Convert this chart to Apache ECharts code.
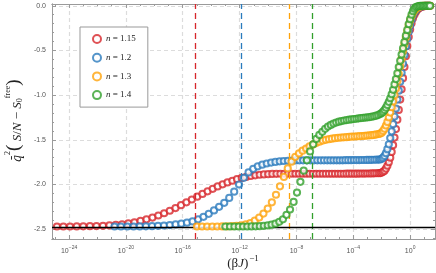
<!DOCTYPE html>
<html><head><meta charset="utf-8">
<script src="https://cdn.jsdelivr.net/npm/echarts@6/dist/echarts.min.js"></script>
<style>html,body{margin:0;padding:0;background:#fff}#c{width:436px;height:273px}</style>
</head><body><div id="c"></div>
<script>
// x values are log10((beta J)^-1)
const seriesNames = ['n = 1.15', 'n = 1.2', 'n = 1.3', 'n = 1.4'];
const seriesColors = ['#d7262b', '#2a7bbd', '#ffa20a', '#32a02c'];
const criticalX = [-15.13, -11.9, -8.52, -6.88];
const groundLevel = -2.48;
const xMajorTicks = [-24, -20, -16, -12, -8, -4, 0];
const xMinorTicks = [-25, -23, -22, -21, -19, -18, -17, -15, -14, -13, -11, -10, -9, -7, -6, -5, -3, -2, -1, 1];
const yMajorTicks = [-2.5, -2.0, -1.5, -1.0, -0.5, 0.0];
const yMinorTicks = [-2.6, -2.4, -2.3, -2.2, -2.1, -1.9, -1.8, -1.7, -1.6, -1.4, -1.3, -1.2, -1.1, -0.9, -0.8, -0.7, -0.6, -0.4, -0.3, -0.2, -0.1];

const red = [[-24.85,-2.47],[-24.4,-2.47],[-23.93,-2.47],[-23.46,-2.469],[-23.0,-2.468],[-22.53,-2.467],[-22.07,-2.465],[-21.61,-2.462],[-21.16,-2.458],[-20.71,-2.452],[-20.27,-2.445],[-19.83,-2.435],[-19.4,-2.423],[-18.97,-2.408],[-18.55,-2.39],[-18.13,-2.37],[-17.72,-2.347],[-17.31,-2.322],[-16.91,-2.294],[-16.51,-2.264],[-16.12,-2.232],[-15.74,-2.2],[-15.36,-2.168],[-14.98,-2.136],[-14.61,-2.105],[-14.25,-2.076],[-13.89,-2.048],[-13.54,-2.022],[-13.19,-1.998],[-12.85,-1.977],[-12.51,-1.958],[-12.18,-1.941],[-11.85,-1.927],[-11.53,-1.915],[-11.21,-1.905],[-10.9,-1.897],[-10.59,-1.891],[-10.29,-1.887],[-9.99,-1.884],[-9.7,-1.882],[-9.41,-1.881],[-9.13,-1.88],[-8.86,-1.88],[-8.59,-1.88],[-8.33,-1.88],[-8.07,-1.88],[-7.82,-1.88],[-7.57,-1.88],[-7.32,-1.88],[-7.08,-1.88],[-6.84,-1.88],[-6.61,-1.88],[-6.38,-1.88],[-6.15,-1.88],[-5.93,-1.88],[-5.71,-1.88],[-5.5,-1.88],[-5.29,-1.88],[-5.08,-1.88],[-4.88,-1.88],[-4.68,-1.88],[-4.48,-1.879],[-4.29,-1.879],[-4.1,-1.879],[-3.91,-1.879],[-3.73,-1.879],[-3.55,-1.878],[-3.37,-1.878],[-3.2,-1.878],[-3.03,-1.877],[-2.86,-1.877],[-2.7,-1.876],[-2.54,-1.875],[-2.38,-1.874],[-2.22,-1.873],[-2.1,-1.872],[-2.0,-1.867],[-1.9,-1.858],[-1.8,-1.845],[-1.7,-1.822],[-1.6,-1.79],[-1.5,-1.75],[-1.4,-1.7],[-1.3,-1.635],[-1.2,-1.56],[-1.1,-1.475],[-1.0,-1.38],[-0.9,-1.275],[-0.8,-1.165],[-0.7,-1.05],[-0.6,-0.935],[-0.5,-0.81],[-0.4,-0.685],[-0.3,-0.565],[-0.2,-0.45],[-0.1,-0.35],[0.0,-0.265],[0.1,-0.195],[0.2,-0.14],[0.3,-0.1],[0.4,-0.07],[0.5,-0.045],[0.6,-0.03],[0.7,-0.02],[0.8,-0.012],[0.9,-0.007],[1.0,-0.004],[1.1,-0.002],[1.2,-0.001],[1.3,0],[1.4,0]];

const blue = [[-20.8,-2.47],[-20.35,-2.47],[-19.9,-2.47],[-19.46,-2.47],[-19.02,-2.469],[-18.59,-2.468],[-18.16,-2.466],[-17.74,-2.463],[-17.32,-2.459],[-16.91,-2.454],[-16.5,-2.447],[-16.1,-2.438],[-15.7,-2.427],[-15.31,-2.413],[-14.92,-2.39],[-14.54,-2.362],[-14.17,-2.328],[-13.8,-2.29],[-13.44,-2.25],[-13.08,-2.205],[-12.73,-2.15],[-12.38,-2.08],[-12.04,-2.0],[-11.7,-1.925],[-11.37,-1.865],[-11.04,-1.825],[-10.72,-1.797],[-10.4,-1.778],[-10.09,-1.765],[-9.78,-1.755],[-9.48,-1.747],[-9.18,-1.741],[-8.89,-1.737],[-8.6,-1.734],[-8.32,-1.732],[-8.05,-1.731],[-7.79,-1.73],[-7.53,-1.73],[-7.27,-1.73],[-7.02,-1.73],[-6.77,-1.73],[-6.53,-1.73],[-6.29,-1.73],[-6.06,-1.73],[-5.83,-1.73],[-5.61,-1.73],[-5.39,-1.729],[-5.17,-1.729],[-4.96,-1.729],[-4.75,-1.729],[-4.55,-1.728],[-4.35,-1.728],[-4.15,-1.728],[-3.96,-1.727],[-3.77,-1.727],[-3.58,-1.727],[-3.4,-1.726],[-3.22,-1.726],[-3.04,-1.725],[-2.87,-1.725],[-2.7,-1.724],[-2.53,-1.723],[-2.37,-1.722],[-2.21,-1.721],[-2.1,-1.72],[-2.0,-1.712],[-1.9,-1.7],[-1.8,-1.68],[-1.7,-1.65],[-1.6,-1.605],[-1.5,-1.55],[-1.4,-1.48],[-1.3,-1.405],[-1.2,-1.325],[-1.1,-1.24],[-1.0,-1.15],[-0.9,-1.05],[-0.8,-0.95],[-0.7,-0.85],[-0.6,-0.75],[-0.5,-0.65],[-0.4,-0.55],[-0.3,-0.455],[-0.2,-0.37],[-0.1,-0.29],[0.0,-0.22],[0.1,-0.16],[0.2,-0.11],[0.3,-0.075],[0.4,-0.05],[0.5,-0.032],[0.6,-0.02],[0.7,-0.012],[0.8,-0.007],[0.9,-0.004],[1.0,-0.002],[1.1,-0.001],[1.2,0],[1.3,0],[1.4,0]];

const orange = [[-15.0,-2.47],[-14.64,-2.47],[-14.28,-2.47],[-13.92,-2.47],[-13.57,-2.47],[-13.22,-2.469],[-12.88,-2.468],[-12.54,-2.466],[-12.21,-2.463],[-11.88,-2.458],[-11.56,-2.447],[-11.24,-2.432],[-10.93,-2.405],[-10.62,-2.37],[-10.32,-2.325],[-10.02,-2.27],[-9.73,-2.2],[-9.44,-2.115],[-9.16,-2.02],[-8.88,-1.915],[-8.61,-1.82],[-8.34,-1.745],[-8.08,-1.69],[-7.82,-1.652],[-7.57,-1.622],[-7.32,-1.597],[-7.08,-1.574],[-6.84,-1.553],[-6.61,-1.536],[-6.38,-1.521],[-6.15,-1.509],[-5.93,-1.5],[-5.71,-1.493],[-5.5,-1.487],[-5.29,-1.482],[-5.08,-1.478],[-4.88,-1.475],[-4.68,-1.472],[-4.48,-1.47],[-4.29,-1.467],[-4.1,-1.465],[-3.91,-1.463],[-3.73,-1.461],[-3.55,-1.459],[-3.37,-1.457],[-3.2,-1.455],[-3.03,-1.453],[-2.86,-1.45],[-2.7,-1.448],[-2.54,-1.445],[-2.38,-1.44],[-2.22,-1.435],[-2.1,-1.43],[-2.0,-1.42],[-1.9,-1.4],[-1.8,-1.375],[-1.7,-1.34],[-1.6,-1.3],[-1.5,-1.25],[-1.4,-1.195],[-1.3,-1.135],[-1.2,-1.07],[-1.1,-1.0],[-1.0,-0.925],[-0.9,-0.845],[-0.8,-0.765],[-0.7,-0.68],[-0.6,-0.595],[-0.5,-0.51],[-0.4,-0.43],[-0.3,-0.355],[-0.2,-0.285],[-0.1,-0.22],[0.0,-0.165],[0.1,-0.12],[0.2,-0.083],[0.3,-0.055],[0.4,-0.035],[0.5,-0.022],[0.6,-0.013],[0.7,-0.007],[0.8,-0.004],[0.9,-0.002],[1.0,0],[1.1,0],[1.2,0],[1.3,0],[1.4,0]];

const green = [[-13.0,-2.47],[-12.68,-2.47],[-12.37,-2.47],[-12.06,-2.47],[-11.76,-2.47],[-11.46,-2.47],[-11.16,-2.469],[-10.87,-2.468],[-10.58,-2.466],[-10.3,-2.463],[-10.02,-2.458],[-9.75,-2.45],[-9.48,-2.438],[-9.21,-2.418],[-8.95,-2.39],[-8.7,-2.34],[-8.45,-2.28],[-8.2,-2.195],[-7.96,-2.09],[-7.72,-1.97],[-7.49,-1.845],[-7.26,-1.73],[-7.04,-1.63],[-6.82,-1.55],[-6.6,-1.49],[-6.39,-1.445],[-6.18,-1.41],[-5.98,-1.377],[-5.78,-1.352],[-5.58,-1.333],[-5.39,-1.318],[-5.2,-1.306],[-5.01,-1.297],[-4.83,-1.29],[-4.65,-1.284],[-4.47,-1.279],[-4.29,-1.275],[-4.12,-1.271],[-3.95,-1.267],[-3.78,-1.264],[-3.62,-1.26],[-3.46,-1.257],[-3.3,-1.254],[-3.14,-1.251],[-2.99,-1.248],[-2.84,-1.245],[-2.69,-1.241],[-2.54,-1.236],[-2.39,-1.23],[-2.25,-1.222],[-2.1,-1.21],[-2.0,-1.2],[-1.9,-1.185],[-1.8,-1.165],[-1.7,-1.14],[-1.6,-1.11],[-1.5,-1.075],[-1.4,-1.035],[-1.3,-0.99],[-1.2,-0.94],[-1.1,-0.88],[-1.0,-0.82],[-0.9,-0.755],[-0.8,-0.685],[-0.7,-0.615],[-0.6,-0.545],[-0.5,-0.475],[-0.4,-0.405],[-0.3,-0.335],[-0.2,-0.27],[-0.1,-0.205],[0.0,-0.15],[0.1,-0.1],[0.2,-0.06],[0.3,-0.032],[0.4,-0.016],[0.5,-0.008],[0.6,-0.004],[0.7,-0.002],[0.8,0],[0.9,0],[1.0,0],[1.1,0],[1.2,0],[1.3,0],[1.4,0]];

const allData = [red, blue, orange, green];

const frameColor = '#9a9a9a';
const gridStyle = {color: '#dcdcdc', width: 1.2, type: [4, 3]};
const xMin = -25.2, xMax = 1.75, yMin = -2.61, yMax = 0.02;

function frameAxis(pos, ticks, len, extra) {
  const horiz = pos === 'bottom' || pos === 'top';
  return Object.assign({
    type: 'value', position: pos,
    min: horiz ? xMin : yMin,
    max: horiz ? xMax : yMax,
    axisLine: {show: true, onZero: false, lineStyle: {color: frameColor, width: 1}},
    axisTick: {show: true, inside: true, length: len, customValues: ticks, lineStyle: {color: frameColor}},
    axisLabel: {show: false},
    splitLine: {show: false}
  }, extra || {});
}

const chart = echarts.init(document.getElementById('c'));
const series = allData.map((d, i) => ({
  name: seriesNames[i], type: 'scatter', data: d, z: 3 + i,
  xAxisIndex: 0, yAxisIndex: 0,
  symbol: 'emptyCircle', symbolSize: 6.2,
  itemStyle: {color: seriesColors[i], borderColor: seriesColors[i], borderWidth: 2},
  markLine: {
    silent: true, symbol: 'none', label: {show: false}, animation: false,
    lineStyle: {color: seriesColors[i], type: [6, 4], width: 1.3, opacity: 1},
    data: [{xAxis: criticalX[i]}]
  }
}));
series.push({
  type: 'scatter', data: [], z: 20, xAxisIndex: 0, yAxisIndex: 0,
  markLine: {silent: true, symbol: 'none', label: {show: false}, animation: false,
    lineStyle: {color: '#000', type: 'solid', width: 1.3},
    data: [{yAxis: groundLevel}]}
});

const serif = 'Liberation Serif';
chart.setOption({
  animation: false,
  backgroundColor: '#fff',
  grid: {left: 52, right: 1, top: 4, bottom: 34, containLabel: false},
  legend: {
    data: seriesNames, orient: 'vertical', left: 80, top: 27,
    backgroundColor: '#fff', borderColor: '#999', borderWidth: 1, borderRadius: 0,
    padding: [7, 12, 7, 12], itemGap: 8.7, itemWidth: 8, itemHeight: 8,
    textStyle: {fontFamily: serif, fontSize: 9, color: '#222',
      rich: {i: {fontFamily: serif, fontStyle: 'italic', fontSize: 9, color: '#222'}}},
    formatter: name => '{i|n} = ' + name.split('= ')[1]
  },
  xAxis: [
    frameAxis('bottom', xMajorTicks, 4, {
      axisLabel: {show: true, customValues: xMajorTicks,
        formatter: v => '{b|10}{e|' + (v < 0 ? '−' + (-v) : v) + '}',
        margin: 6, color: '#555',
        rich: {b: {fontSize: 7, fontFamily: 'Liberation Sans', color: '#555', verticalAlign: 'bottom', lineHeight: 10},
               e: {fontSize: 5, fontFamily: 'Liberation Sans', color: '#555', verticalAlign: 'top', lineHeight: 10, padding: [0, 0, 3, 0]}}},
      splitLine: {show: true, lineStyle: gridStyle}
    }),
    frameAxis('bottom', xMinorTicks, 2),
    frameAxis('top', xMajorTicks, 4),
    frameAxis('top', xMinorTicks, 2)
  ],
  yAxis: [
    frameAxis('left', yMajorTicks, 4, {
      axisLabel: {show: true, customValues: yMajorTicks, formatter: v => v.toFixed(1),
        fontSize: 7, color: '#555', margin: 6, fontFamily: 'Liberation Sans'},
      splitLine: {show: true, lineStyle: gridStyle}
    }),
    frameAxis('left', yMinorTicks, 2),
    frameAxis('right', yMajorTicks, 4),
    frameAxis('right', yMinorTicks, 2)
  ],
  graphic: [
    {type: 'text', x: 243, y: 262, style: {
      text: '{m|(β}{j|J}{m|)}{s|−1}',
      rich: {m: {fontFamily: serif, fontSize: 13, fill: '#222', verticalAlign: 'bottom', lineHeight: 16},
             j: {fontFamily: serif, fontStyle: 'italic', fontSize: 13, fill: '#222', verticalAlign: 'bottom', lineHeight: 16},
             s: {fontFamily: serif, fontSize: 9, fill: '#222', verticalAlign: 'top', lineHeight: 16, padding: [0, 0, 6, 1]}},
      align: 'center', verticalAlign: 'middle'}},
    {type: 'text', x: 14, y: 121, rotation: Math.PI / 2, style: {
      text: '{q|q̄}{s|2}{p|(}{v| S}{m|/}{v|N }{m|− }{v|S}{d|0}{s|free}{p|)}',
      rich: {q: {fontFamily: 'DejaVu Serif', fontStyle: 'italic', fontSize: 12, fill: '#222', verticalAlign: 'bottom', lineHeight: 20},
             v: {fontFamily: serif, fontStyle: 'italic', fontSize: 13, fill: '#222', verticalAlign: 'bottom', lineHeight: 20},
             m: {fontFamily: serif, fontSize: 13, fill: '#222', verticalAlign: 'bottom', lineHeight: 20},
             p: {fontFamily: serif, fontSize: 19, fill: '#222', verticalAlign: 'bottom', lineHeight: 20},
             s: {fontFamily: serif, fontSize: 8, fill: '#222', verticalAlign: 'top', lineHeight: 20, padding: [0, 0, 2, 0]},
             d: {fontFamily: serif, fontSize: 8, fill: '#222', verticalAlign: 'bottom', lineHeight: 20}},
      align: 'center', verticalAlign: 'middle'}}
  ],
  series: series
});
</script></body></html>
